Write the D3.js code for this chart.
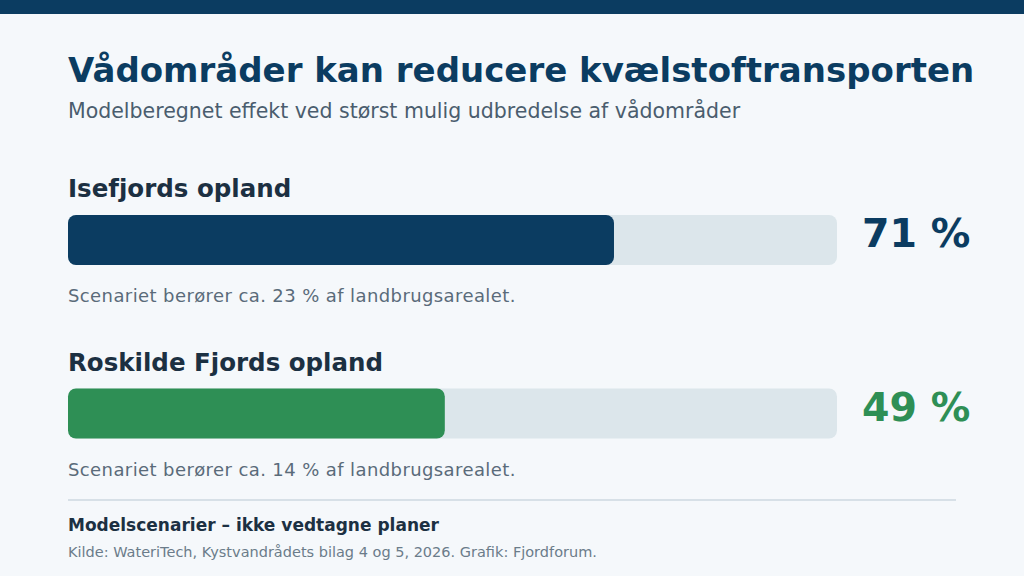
<!DOCTYPE html>
<html><head><meta charset="utf-8">
<script src="https://cdn.jsdelivr.net/npm/d3@7"></script>
<style>html,body{margin:0;padding:0;background:#f5f8fb;}svg{display:block;font-family:"DejaVu Sans",sans-serif;}</style>
</head><body>
<svg id="chart" width="1024" height="576"></svg>
<script>
const categories = ["Isefjords opland", "Roskilde Fjords opland"];
const values = [71, 49];
const areaShares = [23, 14];
const barColors = ["#0b3c61", "#2e8f55"];
const title = "Vådområder kan reducere kvælstoftransporten";
const subtitle = "Modelberegnet effekt ved størst mulig udbredelse af vådområder";
const footNote = "Modelscenarier – ikke vedtagne planer";
const source = "Kilde: WateriTech, Kystvandrådets bilag 4 og 5, 2026. Grafik: Fjordforum.";

const svg = d3.select("#chart");
svg.append("rect").attr("width",1024).attr("height",576).attr("fill","#f5f8fb");
svg.append("rect").attr("width",1024).attr("height",14).attr("fill","#0b3c61");

svg.append("text").attr("x",68).attr("y",82).attr("font-size",34).attr("font-weight","bold")
  .attr("fill","#0b3c61").text(title);
svg.append("text").attr("x",68).attr("y",118).attr("font-size",20.5).attr("fill","#4a5d6e").text(subtitle);

const x = d3.scaleLinear().domain([0,100]).range([68,837]);
const y = d3.scaleBand().domain(categories).range([170,517]).paddingInner(0);
const g = svg.selectAll("g.grp").data(categories).join("g").attr("class","grp")
  .attr("transform",(d)=>`translate(0,${y(d)})`);

g.append("text").attr("x",68).attr("y",27).attr("font-size",24.5).attr("font-weight","bold")
  .attr("fill","#1c3042").text(d=>d);
g.append("rect").attr("x",x(0)).attr("y",45).attr("width",x(100)-x(0)).attr("height",50)
  .attr("rx",8).attr("fill","#dce6eb");
g.append("rect").attr("x",x(0)).attr("y",45).attr("width",(d,i)=>x(values[i])-x(0)).attr("height",50)
  .attr("rx",8).attr("fill",(d,i)=>barColors[i]);
g.append("text").attr("x",862).attr("y",77).attr("font-size",39.5).attr("font-weight","bold")
  .attr("fill",(d,i)=>barColors[i]).text((d,i)=>`${values[i]} %`);
g.append("text").attr("x",68).attr("y",132).attr("font-size",18).attr("letter-spacing",0.4).attr("fill","#5a6b7a")
  .text((d,i)=>`Scenariet berører ca. ${areaShares[i]} % af landbrugsarealet.`);

svg.append("line").attr("x1",68).attr("x2",956).attr("y1",500).attr("y2",500)
  .attr("stroke","#cdd8e0").attr("stroke-width",1.5);
svg.append("text").attr("x",68).attr("y",531).attr("font-size",17).attr("font-weight","bold")
  .attr("fill","#1c3042").text(footNote);
svg.append("text").attr("x",68).attr("y",557).attr("font-size",14.5).attr("fill","#6b7c8a").text(source);
</script>
</body></html>
